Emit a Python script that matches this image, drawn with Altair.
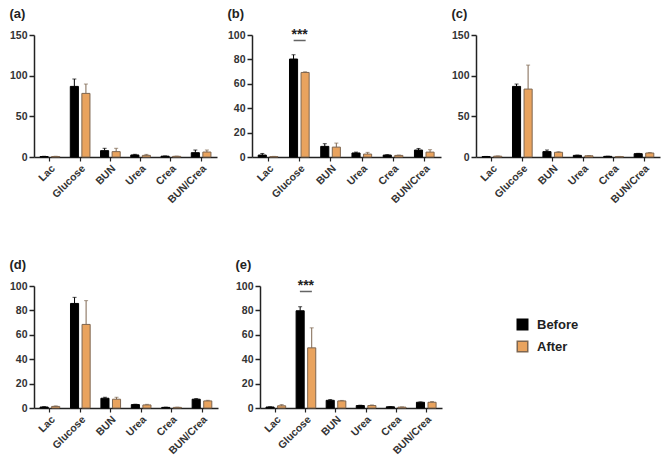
import altair as alt
import pandas as pd

categories = ["Lac", "Glucose", "BUN", "Urea", "Crea", "BUN/Crea"]
groups = ["Before", "After"]

# panel (a)
a_before = [0.6, 86.8, 7.8, 2.5, 1.0, 5.3]
a_before_err = [0.3, 9.1, 2.9, 0.8, 0.3, 3.3]
a_after = [0.6, 78.2, 6.6, 2.0, 0.8, 6.1]
a_after_err = [0.3, 11.5, 4.1, 1.2, 0.3, 2.5]
# panel (b)
b_before = [1.6, 80.3, 8.7, 3.3, 1.6, 5.7]
b_before_err = [1.3, 3.5, 2.2, 0.7, 0.3, 1.3]
b_after = [0.3, 69.3, 8.1, 2.4, 1.3, 4.0]
b_after_err = [0.2, 0.5, 3.3, 1.4, 0.3, 2.0]
# panel (c)
c_before = [0.5, 86.8, 6.6, 2.0, 0.8, 4.1]
c_before_err = [0.2, 2.9, 2.0, 0.4, 0.2, 0.4]
c_after = [1.0, 83.5, 5.8, 1.5, 0.5, 4.9]
c_after_err = [0.3, 29.5, 0.7, 0.3, 0.2, 0.6]
# panel (d)
d_before = [0.8, 85.7, 8.0, 2.8, 0.5, 7.2]
d_before_err = [0.3, 5.0, 0.8, 0.3, 0.2, 0.5]
d_after = [1.3, 68.5, 7.2, 2.5, 0.5, 5.8]
d_after_err = [0.4, 19.5, 1.6, 0.5, 0.2, 0.5]
# panel (e)
e_before = [0.8, 79.7, 6.3, 2.0, 1.0, 4.7]
e_before_err = [0.2, 3.3, 0.6, 0.3, 0.2, 0.3]
e_after = [1.8, 49.3, 5.8, 2.0, 0.7, 4.7]
e_after_err = [1.0, 16.4, 0.4, 0.5, 0.2, 0.6]

sig_label = "***"
sig_category = "Glucose"

FONT = "Liberation Sans"
fill_colors = ["#000000", "#E9A35E"]
stroke_colors = ["#000000", "#7E6650"]


def panel(letter, before, before_err, after, after_err, ymax, step, sig, width, legend=None):
    rows = []
    for i, c in enumerate(categories):
        rows.append({"cat": c, "group": "Before", "value": before[i], "top": before[i] + before_err[i]})
        rows.append({"cat": c, "group": "After", "value": after[i], "top": after[i] + after_err[i]})
    df = pd.DataFrame(rows)
    base = alt.Chart(df)
    x = alt.X("cat:N", sort=categories, title=None,
              scale=alt.Scale(paddingInner=0.35, paddingOuter=0.2),
              axis=alt.Axis(labelAngle=-45, labelAlign="right", labelBaseline="top",
                            labelPadding=2, labelFontSize=10.5, labelFontWeight="bold",
                            labelColor="#333333", tickSize=4, tickWidth=1.2, labelOverlap=False,
                            domainWidth=1.5, domainColor="#222222", tickColor="#222222"))
    xo = alt.XOffset("group:N", sort=groups, scale=alt.Scale(paddingInner=0.3))
    yscale = alt.Scale(domain=[0, ymax], nice=False)
    yaxis = alt.Axis(values=list(range(0, ymax + 1, step)), grid=False, labelOverlap=False,
                     labelFontSize=10.5, labelFontWeight="bold", labelColor="#333333",
                     tickSize=5, tickWidth=1.5, domainWidth=1.5,
                     domainColor="#222222", tickColor="#222222", labelPadding=2)

    def Y(field):
        return alt.Y(field, title=None, scale=yscale, axis=yaxis)

    fill = alt.Fill("group:N", sort=groups, scale=alt.Scale(domain=groups, range=fill_colors),
                    legend=legend)
    stroke = alt.Stroke("group:N", sort=groups, scale=alt.Scale(domain=groups, range=stroke_colors),
                        legend=legend)
    bars = base.mark_bar(strokeWidth=1).encode(x=x, xOffset=xo, y=Y("value:Q"), fill=fill, stroke=stroke)
    err = base.mark_rule(strokeWidth=1).encode(
        x=x, xOffset=xo, y=Y("value:Q"), y2="top:Q", stroke=stroke)
    caps = base.mark_tick(size=4, thickness=1).encode(
        x=x, xOffset=xo, y=Y("top:Q"),
        color=alt.Color("group:N", sort=groups, scale=alt.Scale(domain=groups, range=stroke_colors), legend=None))
    layers = [bars, err, caps]
    if sig:
        sdf = pd.DataFrame({"cat": [sig_category], "label": [sig_label],
                            "value": [ymax * 1.0], "top": [ymax * 0.955]})
        sb = alt.Chart(sdf)
        layers.append(sb.mark_text(font=FONT, fontSize=14, fontWeight="bold", baseline="middle",
                                   color="#222222").encode(x=x, y=Y("value:Q"), text="label:N"))
        layers.append(sb.mark_tick(size=12, thickness=1.5, color="#222222").encode(
            x=x, y=Y("top:Q")))
    return alt.layer(*layers).properties(
        width=width, height=122,
        title=alt.TitleParams(letter, anchor="start", frame="bounds", fontSize=13,
                              fontWeight="bold", font=FONT, color="#222222",
                              offset=7 if sig else 9))


legend_e = alt.Legend(title=None, orient="none", legendX=256, legendY=32, labelFontSize=13,
                      labelFontWeight="bold", labelColor="#222222", symbolType="square",
                      symbolSize=110, symbolStrokeWidth=1.5, rowPadding=5, labelOffset=8,
                      labelFont=FONT)

pa = panel("(a)", a_before, a_before_err, a_after, a_after_err, 150, 50, False, 183)
pb = panel("(b)", b_before, b_before_err, b_after, b_after_err, 100, 20, True, 189)
pc = panel("(c)", c_before, c_before_err, c_after, c_after_err, 150, 50, False, 184)
pd_ = panel("(d)", d_before, d_before_err, d_after, d_after_err, 100, 20, False, 184)
pe = panel("(e)", e_before, e_before_err, e_after, e_after_err, 100, 20, True, 182, legend=legend_e)

indep = dict(fill="independent", stroke="independent", color="independent")
row1 = alt.hconcat(pa, pb, pc, spacing=10).resolve_scale(**indep)
row2 = alt.hconcat(pd_, pe, spacing=17).resolve_scale(**indep)
chart = alt.vconcat(row1, row2, spacing=53).resolve_scale(**indep).properties(
    padding={"left": 9, "top": 8, "right": 2, "bottom": 2}
).configure(font=FONT).configure_view(stroke=None)

chart.save("out.html", embed_options={"renderer": "svg", "actions": False})
